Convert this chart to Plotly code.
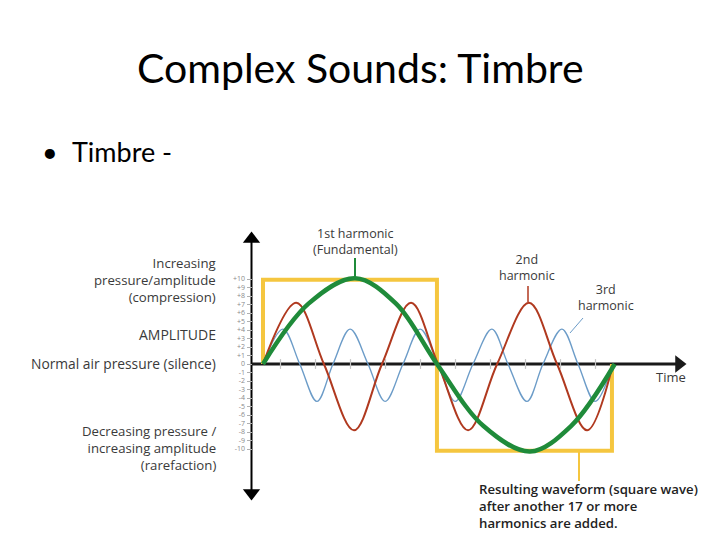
import plotly.graph_objects as go

# ---- data (time in fundamental periods, amplitude -10..+10) ----
square_t = [0, 0, 0.497, 0.497, 0.997, 0.997]
square_v = [0, 9.9, 9.9, -10.2, -10.2, 0]

fund_t = [0, 0.13, 0.263, 0.38, 0.497, 0.63, 0.763, 0.88, 1.005]
fund_v = [0, 7.1, 10.1, 7.1, 0, -7.3, -10.3, -7.3, 0]

h2_t = [0, 0.095, 0.174, 0.26, 0.34, 0.423, 0.5, 0.586, 0.669, 0.76, 0.84, 0.926, 1.0]
h2_v = [0, 7.2, 0, -7.8, 0, 7.2, 0, -7.8, 0, 7.2, 0, -7.8, 0]

h3_t = [0, 0.057, 0.105, 0.154, 0.2, 0.249, 0.3, 0.349, 0.4, 0.449, 0.5,
        0.549, 0.6, 0.654, 0.7, 0.754, 0.8, 0.854, 0.9, 0.949, 1.0]
h3_v = [0, 4.1, 0, -4.4, 0, 4.1, 0, -4.4, 0, 4.1, 0,
        -4.4, 0, 4.1, 0, -4.4, 0, 4.1, 0, -4.4, 0]

amp_ticks = [10, 9, 8, 7, 6, 5, 4, 3, 2, 1, 0, -1, -2, -3, -4, -5, -6, -7, -8, -9, -10]
amp_labels = ["+10", "+9", "+8", "+7", "+6", "+5", "+4", "+3", "+2", "+1", "0",
              "-1", "-2", "-3", "-4", "-5", "-6", "-7", "-8", "-9", "-10"]
time_ticks = [0.05, 0.15, 0.25, 0.35, 0.45, 0.55, 0.65, 0.75, 0.85, 0.95]

# ---- layout geometry: the plot area fills the whole 720x540 page ----
W, H = 720, 540
X0, XS = 263.0, 350.0      # pixel x of t=0, pixels per period
Y0, YS = 364.0, 8.5        # pixel y of amplitude 0, pixels per unit

def tx(px):
    return (px - X0) / XS

def vy(py):
    return (Y0 - py) / YS

YELLOW = "#F5C63F"
GREEN = "#1F8B3A"
RED = "#B0391F"
BLUE = "#6C9CC8"
TXT = "#3a3a3a"
DFONT = "Open Sans"

fig = go.Figure()

# light time ticks
fig.add_trace(go.Scatter(x=time_ticks, y=[0] * len(time_ticks), mode="markers",
                         marker=dict(symbol="line-ns", size=7,
                                     line=dict(color="#c4c4c4", width=1.2)),
                         hoverinfo="skip", showlegend=False))

fig.add_trace(go.Scatter(x=square_t, y=square_v, mode="lines",
                         line=dict(color=YELLOW, width=4), showlegend=False))
fig.add_trace(go.Scatter(x=h3_t, y=h3_v, mode="lines",
                         line=dict(color=BLUE, width=1.4, shape="spline", smoothing=1.0),
                         showlegend=False))
fig.add_trace(go.Scatter(x=h2_t, y=h2_v, mode="lines",
                         line=dict(color=RED, width=2, shape="spline", smoothing=1.0),
                         showlegend=False))
fig.add_trace(go.Scatter(x=fund_t, y=fund_v, mode="lines",
                         line=dict(color=GREEN, width=4.5, shape="spline", smoothing=1.0),
                         showlegend=False))

# arrowheads on the axes
fig.add_trace(go.Scatter(x=[tx(251.5)], y=[vy(239)], mode="markers",
                         marker=dict(symbol="triangle-up", size=15, color="black"),
                         hoverinfo="skip", showlegend=False))
fig.add_trace(go.Scatter(x=[tx(251.5)], y=[vy(493)], mode="markers",
                         marker=dict(symbol="triangle-down", size=15, color="black"),
                         hoverinfo="skip", showlegend=False))
fig.add_trace(go.Scatter(x=[tx(679)], y=[0], mode="markers",
                         marker=dict(symbol="triangle-right", size=15, color="#1a1a1a"),
                         hoverinfo="skip", showlegend=False))

shapes = [
    # vertical axis
    dict(type="line", x0=tx(251.5), x1=tx(251.5), y0=vy(240), y1=vy(492),
         line=dict(color="black", width=2), layer="below"),
    # time axis
    dict(type="line", x0=tx(251.5), x1=tx(676), y0=0, y1=0,
         line=dict(color="#1a1a1a", width=3), layer="below"),
    # leader lines
    dict(type="line", x0=tx(355), x1=tx(355), y0=vy(258), y1=vy(278),
         line=dict(color=GREEN, width=2)),
    dict(type="line", x0=tx(528), x1=tx(528), y0=vy(286), y1=vy(302),
         line=dict(color=RED, width=1.5)),
    dict(type="line", x0=tx(583), x1=tx(570), y0=vy(318), y1=vy(333),
         line=dict(color=BLUE, width=1)),
    dict(type="line", x0=tx(579), x1=tx(579), y0=vy(451), y1=vy(481),
         line=dict(color=YELLOW, width=2)),
]

ann = []

def label(text, x, y, size=12.5, anchor="center", color=TXT, family=DFONT,
          align=None, weight="normal"):
    ann.append(dict(text=text, x=x / W, y=1 - y / H, xref="paper", yref="paper",
                    xanchor=anchor, yanchor="middle", showarrow=False,
                    align=align or ("right" if anchor == "right" else
                                    "left" if anchor == "left" else "center"),
                    font=dict(family=family, size=size, color=color, weight=weight)))

# slide title and bullet
label("Complex Sounds: Timbre", 360, 68, size=41, color="black", family="Lato")
label("•", 50, 151, size=27, color="black", family="Lato")
label("Timbre -", 70, 151, size=27, anchor="left", color="black", family="Lato")

# harmonic labels
label("1st harmonic<br>(Fundamental)", 355, 241, size=12.5)
label("2nd<br>harmonic", 527, 268, size=12.5)
label("3rd<br>harmonic", 606, 297, size=12.5)
label("Time", 671, 377, size=13)

# left explanatory text (right aligned)
label("Increasing<br>pressure/amplitude<br>(compression)", 218, 280, size=13.2,
      anchor="right")
label("AMPLITUDE", 218, 334, size=14, anchor="right")
label("Normal air pressure (silence)", 218, 363, size=13.8, anchor="right")
label("Decreasing pressure /<br>increasing amplitude<br>(rarefaction)", 218, 448,
      size=13.2, anchor="right")

# bottom note
label("Resulting waveform (square wave)<br>after another 17 or more<br>harmonics are added.",
      477, 506, size=13.2, anchor="left", color="#222", weight=600)

fig.update_layout(
    width=W, height=H,
    margin=dict(l=0, r=0, t=0, b=0),
    paper_bgcolor="white", plot_bgcolor="white",
    showlegend=False,
    shapes=shapes, annotations=ann,
    xaxis=dict(range=[tx(0), tx(W)], domain=[0, 1], visible=False, fixedrange=True),
    yaxis=dict(range=[vy(H), vy(0)], domain=[0, 1], anchor="free", position=251.5 / W,
               tickvals=amp_ticks, ticktext=amp_labels, ticks="outside", ticklen=5,
               tickcolor="#b0b0b0", tickwidth=1,
               tickfont=dict(family=DFONT, size=7, color="#8a8a8a"),
               showline=False, showgrid=False, zeroline=False, fixedrange=True),
)

fig.write_html("out.html", config={"displayModeBar": False},
               post_script="document.body.style.margin='0';document.body.style.overflow='hidden';")
